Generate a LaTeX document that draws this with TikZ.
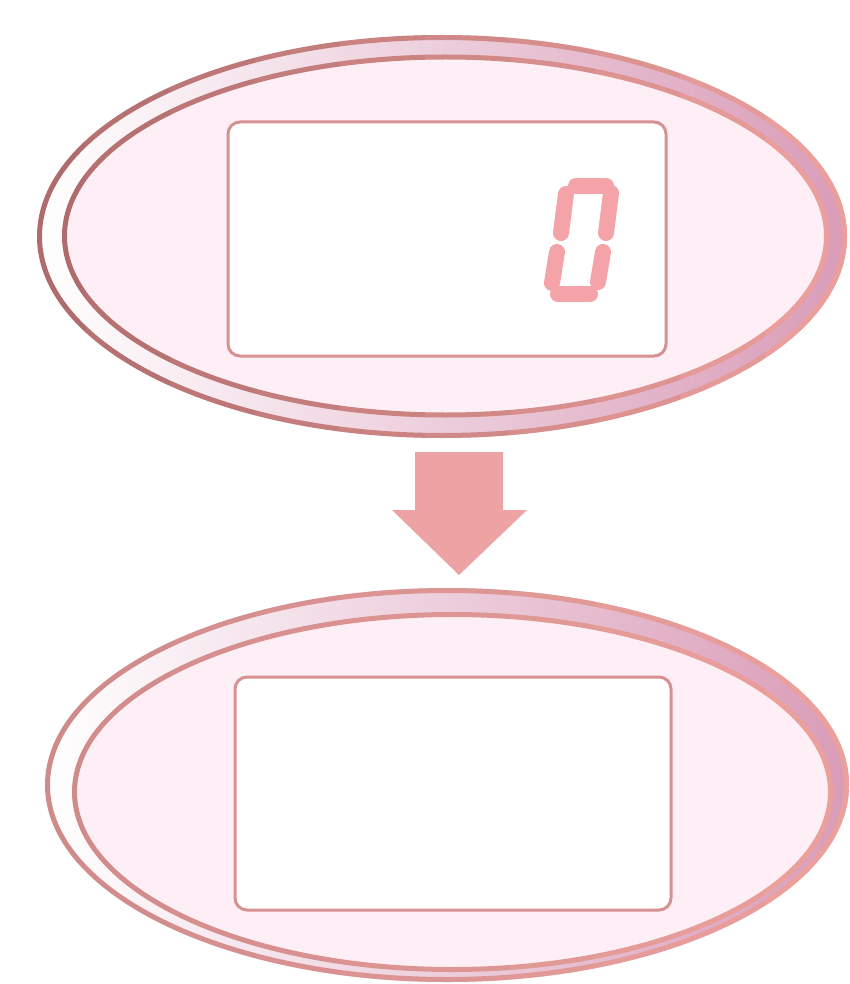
\documentclass[tikz,border=0pt]{standalone}
\usetikzlibrary{shapes.geometric}
\definecolor{ringL}{HTML}{B06C6C}
\definecolor{ringLb}{HTML}{CF8A8A}
\definecolor{ringR}{HTML}{EBA09C}
\definecolor{bandR}{HTML}{DA9CB8}
\definecolor{innerfill}{HTML}{FDEFF5}
\definecolor{rectline}{HTML}{D69292}
\definecolor{digitc}{HTML}{F4A4A8}
\definecolor{arrowc}{HTML}{EDA3A3}
\begin{document}
\begin{tikzpicture}[x=1pt,y=-1pt,
  band/.style={ellipse, inner sep=0pt, left color=white, right color=bandR},
  ring/.style={line width=5pt},
  lcd/.style={draw=rectline, line width=3pt, fill=white, rounded corners=12pt, inner sep=0pt},
  seg/.style={draw=digitc, line width=16pt, line cap=round},
  bigarrow/.style={fill=arrowc}]
\useasboundingbox (0,0) rectangle (849,984);
\fill[white] (0,0) rectangle (849,984);

% ---- top display ----
\node[band, minimum width=810pt, minimum height=403pt] (topouter) at (442,236.5) {};
\fill[innerfill] (445.5,236) ellipse [x radius=381, y radius=179];
\foreach \i in {0,...,9}{
  \pgfmathtruncatemacro\p{100-11*\i}
  \begin{scope}
    \clip (\i*85,0) rectangle ++(85,984);
    \draw[ring, draw=ringL!\p!ringR] (442,236.5) ellipse [x radius=402.5, y radius=199];
    \draw[ring, draw=ringL!\p!ringR] (445.5,236) ellipse [x radius=381, y radius=179];
  \end{scope}
}
\node[lcd, minimum width=438pt, minimum height=234pt] (toplcd) at (447,239) {};

% digit 0 (seven segments)
\draw[seg] (576,186) -- (606,186);
\draw[seg] (611,193) -- (606,233);
\draw[seg] (603,252) -- (598,282);
\draw[seg] (590,294) -- (558,294);
\draw[seg] (552,283) -- (557,252);
\draw[seg] (561,233) -- (566,194);

% ---- arrow ----
\fill[bigarrow] (415,452) -- (503,452) -- (503,510) -- (527,510) -- (459,575) -- (392,510) -- (415,510) -- cycle;

% ---- bottom display ----
\node[band, minimum width=804pt, minimum height=394pt] (botouter) at (447,785) {};
\fill[innerfill] (452.5,792) ellipse [x radius=378, y radius=177.5];
\foreach \i in {0,...,9}{
  \pgfmathtruncatemacro\p{100-11*\i}
  \begin{scope}
    \clip (\i*85,0) rectangle ++(85,984);
    \draw[ring, draw=ringLb!\p!ringR] (447,785) ellipse [x radius=399.5, y radius=194.5];
    \draw[ring, draw=ringLb!\p!ringR] (452.5,792) ellipse [x radius=378, y radius=177.5];
  \end{scope}
}
\node[lcd, minimum width=436pt, minimum height=233pt] (botlcd) at (453,793.5) {};
\end{tikzpicture}
\end{document}
